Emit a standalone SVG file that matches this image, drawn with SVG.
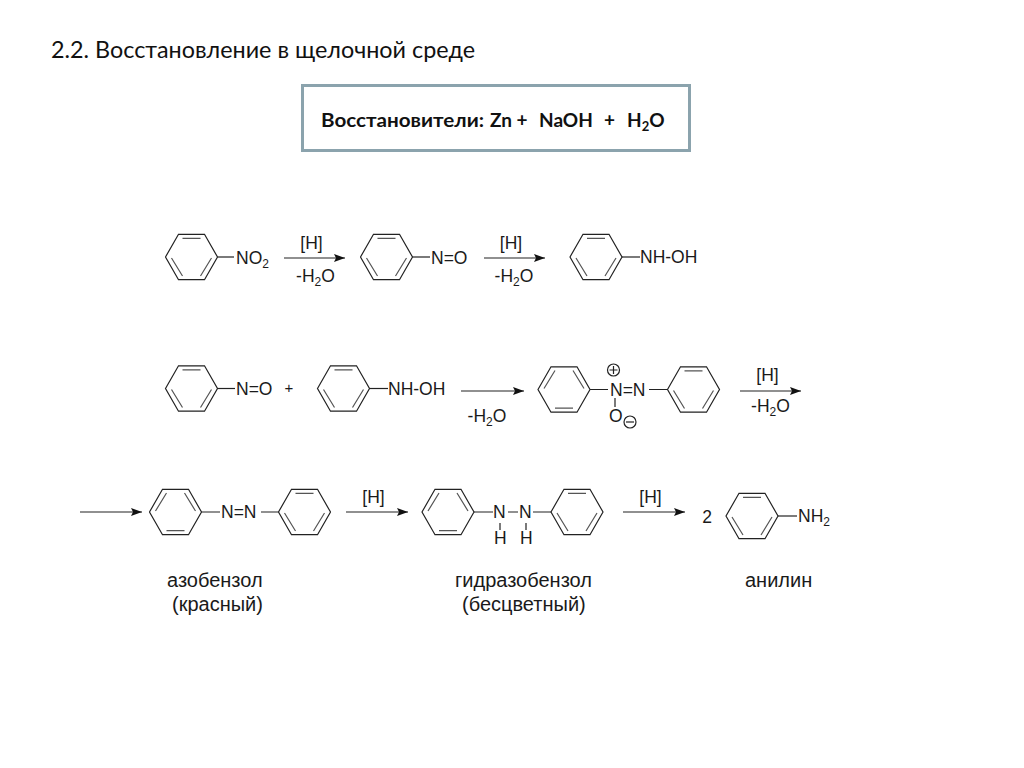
<svg xmlns="http://www.w3.org/2000/svg" width="1024" height="768" viewBox="0 0 1024 768">
<style>
text{font-family:"Liberation Sans",Arial,sans-serif;font-size:17.5px;fill:#1a1a1a}
.sub{font-size:12px}
.name{font-size:20px}
.title{font-family:Lato,"Open Sans",sans-serif;font-size:23px;fill:#111}
.box{font-family:Lato,"Open Sans",sans-serif;font-size:19px;font-weight:700;fill:#111}
.b{stroke:#222;stroke-width:1.2;fill:none}
.a{stroke:#222;stroke-width:1.2;fill:none;marker-end:url(#ah)}
</style>
<defs>
<marker id="ah" markerUnits="userSpaceOnUse" markerWidth="12" markerHeight="8" refX="11" refY="4" orient="auto"><path d="M0 0L11 4L0 8L2 4Z" fill="#111"/></marker>
<g id="ringA" class="b"><path d="M-26 0L-13-22.7H13L26 0L13 22.7H-13Z"/><path d="M-9-18.6H9M-20 1L-9 19M20 1L9 19" stroke="#555"/></g>
<g id="ringB" class="b"><path d="M-26 0L-13-22.7H13L26 0L13 22.7H-13Z"/><path d="M-9 18.6H9M-20-1L-9-19M20-1L9-19" stroke="#555"/></g>
</defs>
<rect width="1024" height="768" fill="#fff"/>
<text class="title" x="51" y="58" textLength="424" lengthAdjust="spacingAndGlyphs">2.2. Восстановление в щелочной среде</text>
<g id="reagents">
<rect x="302.500" y="85.500" width="387" height="65" fill="#fff" stroke="#8ba3ad" stroke-width="3"/>
<text class="box" x="321" y="127" textLength="163" lengthAdjust="spacingAndGlyphs">Восстановители:</text>
<text class="box" y="127"><tspan x="490">Zn +</tspan><tspan x="539">NaOH</tspan><tspan x="604">+</tspan><tspan x="627">H</tspan><tspan font-size="13" dy="4">2</tspan><tspan dy="-4">O</tspan></text>
</g>
<g id="connectors">
<path class="a" d="M284 258H345"/><path class="a" d="M484 258H545"/>
<path class="a" d="M461 391H524"/><path class="a" d="M740 391H801"/>
<path class="a" d="M80 512H142"/><path class="a" d="M346 512H408"/><path class="a" d="M623 512H685"/>
</g>
<g id="labels">
<text x="311.500" y="249" text-anchor="middle">[H]</text><text x="315.500" y="282" text-anchor="middle">-H<tspan class="sub" dy="4">2</tspan><tspan dy="-4">O</tspan></text>
<text x="511" y="249" text-anchor="middle">[H]</text><text x="514" y="282" text-anchor="middle">-H<tspan class="sub" dy="4">2</tspan><tspan dy="-4">O</tspan></text>
<text x="487" y="422" text-anchor="middle">-H<tspan class="sub" dy="4">2</tspan><tspan dy="-4">O</tspan></text>
<text x="767.500" y="381" text-anchor="middle">[H]</text><text x="770.500" y="412" text-anchor="middle">-H<tspan class="sub" dy="4">2</tspan><tspan dy="-4">O</tspan></text>
<text x="373.500" y="503" text-anchor="middle">[H]</text><text x="650.500" y="503" text-anchor="middle">[H]</text>
<text x="289" y="393" text-anchor="middle" style="font-size:15px">+</text>
<text x="707" y="523" text-anchor="middle">2</text>
</g>
<g id="nitrobenzene"><use href="#ringA" x="191.500" y="257"/><path class="b" d="M217.500 257H234"/><text x="236" y="264">NO<tspan class="sub" dy="4">2</tspan></text></g>
<g id="nitrosobenzene"><use href="#ringA" x="386.500" y="257"/><path class="b" d="M412.500 257H430"/><text x="431" y="264">N=O</text></g>
<g id="phenylhydroxylamine"><use href="#ringA" x="596" y="257"/><path class="b" d="M622 257H640"/><text x="640" y="263">NH-OH</text></g>
<g id="nitrosobenzene2"><use href="#ringA" x="191.500" y="388.500"/><path class="b" d="M217.500 388.500H235"/><text x="236" y="395">N=O</text></g>
<g id="phenylhydroxylamine2"><use href="#ringA" x="343.500" y="388.500"/><path class="b" d="M369.500 388.500H388"/><text x="388" y="395">NH-OH</text></g>
<g id="azoxybenzene"><use href="#ringB" x="564" y="389.500"/><use href="#ringA" x="693.500" y="389.500"/>
<path class="b" d="M590 389.500H608M649 389.500H667.500M615 398V407"/>
<text x="610" y="396">N=N</text><text x="609" y="422">O</text>
<circle class="b" cx="613.500" cy="370" r="6"/><path class="b" d="M609.500 370H617.500M613.500 366V374"/>
<circle class="b" cx="630" cy="422" r="6"/><path class="b" d="M626 422H634"/></g>
<g id="azobenzene"><use href="#ringB" x="175.500" y="512"/><use href="#ringA" x="304.500" y="512"/>
<path class="b" d="M201.500 512H220M261 512H278.500"/><text x="221" y="518">N=N</text></g>
<g id="hydrazobenzene"><use href="#ringB" x="448" y="512"/><use href="#ringA" x="577" y="512"/>
<path class="b" d="M474 512H493M508 512H518M533 512H551M500 523V530M526 523V530"/>
<text x="493" y="518">N</text><text x="519" y="518">N</text><text x="494" y="544">H</text><text x="520" y="544">H</text></g>
<g id="aniline"><use href="#ringA" x="752" y="516"/><path class="b" d="M778 516H797"/><text x="798" y="522">NH<tspan class="sub" dy="4">2</tspan></text></g>
<g id="names">
<text class="name" x="167" y="587" style="font-size:20px">азобензол</text><text class="name" x="172" y="611" style="font-size:20px">(красный)</text>
<text class="name" x="455" y="587" style="font-size:20px">гидразобензол</text><text class="name" x="462" y="611" style="font-size:20px">(бесцветный)</text>
<text class="name" x="745" y="587" style="font-size:20px">анилин</text>
</g>
</svg>
